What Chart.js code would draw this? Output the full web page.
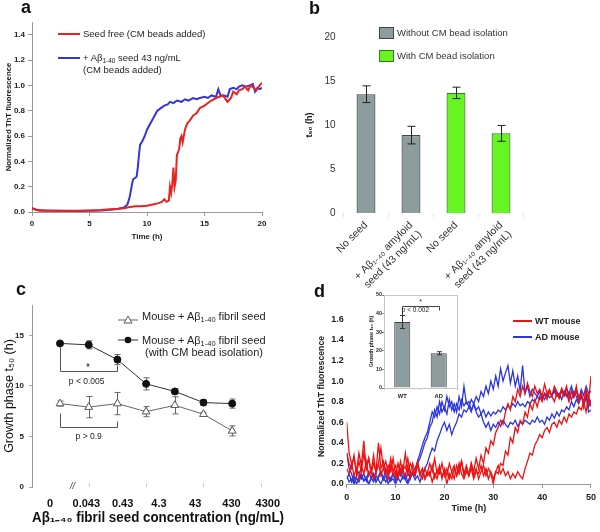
<!DOCTYPE html>
<html>
<head>
<meta charset="utf-8">
<script src="https://cdn.jsdelivr.net/npm/chart.js@4.4.1/dist/chart.umd.min.js"></script>
<style>
  html, body { margin: 0; padding: 0; background: #fff; }
  #fig { position: relative; width: 600px; height: 532px; overflow: hidden;
         font-family: 'Liberation Sans', Arial, sans-serif; color: #222; }
  #fig canvas { position: absolute; left: 0; top: 0; }
  .t { position: absolute; white-space: nowrap; line-height: 1; transform: translateY(-50%); }
  .lt { position: absolute; font-weight: bold; font-size: 18px; line-height: 1; color: #111; }
  .sub { font-size: 0.68em; position: relative; top: 0.32em; }
  .ln { position: absolute; height: 2px; }
  .sq { position: absolute; width: 15px; height: 12px; box-sizing: border-box; border: 1px solid #333; }
  svg { position: absolute; }
</style>
</head>
<body>
<div id="fig">
  <canvas id="chartA" width="600" height="532"></canvas>
  <canvas id="chartB" width="600" height="532"></canvas>
  <canvas id="chartC" width="600" height="532"></canvas>
  <canvas id="chartD" width="600" height="532"></canvas>
  <canvas id="chartInset" width="600" height="532"></canvas>

  <!-- panel letters -->
  <div class="lt" style="left:21px;top:-2px">a</div>
  <div class="lt" style="left:309px;top:-1px">b</div>
  <div class="lt" style="left:16px;top:280px">c</div>
  <div class="lt" style="left:314px;top:282px">d</div>

  <!-- legend a -->
  <div class="ln" style="left:58px;top:33px;width:22px;background:#e8241f"></div>
  <div class="t" style="left:83px;top:34px;font-size:9.5px">Seed free (CM beads added)</div>
  <div class="ln" style="left:58px;top:57px;width:22px;background:#3535d8"></div>
  <div class="t" style="left:83px;top:58px;font-size:9.5px">+ Aβ<span class="sub">1-40</span> seed 43 ng/mL</div>
  <div class="t" style="left:83px;top:70px;font-size:9.5px">(CM beads added)</div>

  <!-- legend b -->
  <div class="sq" style="left:379px;top:27px;background:#8d9d9e;border-color:#3d4848"></div>
  <div class="t" style="left:397px;top:33px;font-size:9.5px;color:#333">Without CM bead isolation</div>
  <div class="sq" style="left:379px;top:50px;background:#66f522;border-color:#2f7f1a"></div>
  <div class="t" style="left:397px;top:56px;font-size:9.5px;color:#333">With CM bead isolation</div>

  <!-- legend c -->
  <svg style="left:116px;top:313px" width="24" height="14">
    <line x1="2" y1="7" x2="22" y2="7" stroke="#666" stroke-width="1"/>
    <polygon points="12,3 16,10 8,10" fill="#fff" stroke="#555"/>
  </svg>
  <div class="t" style="left:142px;top:316px;font-size:11px">Mouse + Aβ<span class="sub">1-40</span> fibril seed</div>
  <svg style="left:116px;top:333px" width="24" height="14">
    <line x1="2" y1="7" x2="22" y2="7" stroke="#333" stroke-width="1"/>
    <circle cx="12" cy="7" r="3.3" fill="#111"/>
  </svg>
  <div class="t" style="left:142px;top:340px;font-size:11px">Mouse + Aβ<span class="sub">1-40</span> fibril seed</div>
  <div class="t" style="left:145px;top:352px;font-size:11px">(with CM bead isolation)</div>
  <div class="t" style="left:70px;top:486px;font-size:9px;font-style:italic;color:#333">//</div>

  <!-- legend d -->
  <div class="ln" style="left:513px;top:320px;width:19px;background:#f01010"></div>
  <div class="t" style="left:535px;top:321px;font-size:9px;font-weight:bold">WT mouse</div>
  <div class="ln" style="left:513px;top:336px;width:19px;background:#2b35e0"></div>
  <div class="t" style="left:535px;top:337px;font-size:9px;font-weight:bold">AD mouse</div>
</div>

<script>
// ---------- panel a: ThT kinetics ----------
const A_SEED_FREE_T = [0, 0.3, 0.6, 1, 2, 3, 4, 5, 6, 6.5, 7, 7.5, 8, 8.5, 9, 9.5, 10, 10.5, 11, 11.3, 11.5, 11.7, 11.9, 12.0, 12.1, 12.2, 12.3, 12.4, 12.5, 12.6, 12.7, 12.8, 12.9, 13.0, 13.1, 13.3, 13.5, 13.7, 14.0, 14.3, 14.6, 15.0, 15.3, 15.6, 16.0, 16.3, 16.6, 17.0, 17.3, 17.5, 17.8, 18.0, 18.3, 18.5, 18.8, 19.0, 19.3, 19.5, 19.8, 20];
const A_SEED_FREE = [0.03, 0.02, 0.01, 0.012, 0.01, 0.008, 0.01, 0.012, 0.015, 0.02, 0.022, 0.025, 0.03, 0.04, 0.045, 0.045, 0.05, 0.06, 0.07, 0.08, 0.1, 0.08, 0.09, 0.2, 0.15, 0.22, 0.35, 0.2, 0.25, 0.45, 0.47, 0.5, 0.58, 0.6, 0.55, 0.65, 0.7, 0.72, 0.76, 0.78, 0.82, 0.84, 0.86, 0.88, 0.9, 0.91, 0.92, 0.87, 0.9, 0.95, 0.93, 0.96, 0.97, 0.99, 0.96, 1.0, 0.98, 0.96, 1.0, 1.02];
const A_SEEDED_T = [0, 0.3, 0.6, 1, 2, 3, 4, 5, 6, 7, 7.5, 8, 8.3, 8.5, 8.7, 8.8, 9.0, 9.1, 9.2, 9.3, 9.4, 9.6, 9.8, 10.0, 10.3, 10.6, 10.9, 11.2, 11.5, 11.8, 12.0, 12.3, 12.6, 13.0, 13.3, 13.6, 14.0, 14.3, 14.6, 15.0, 15.3, 15.6, 16.0, 16.2, 16.4, 16.7, 17.0, 17.2, 17.5, 17.8, 18.0, 18.3, 18.6, 19.0, 19.2, 19.4, 19.6, 19.8, 20];
const A_SEEDED = [0.03, 0.02, 0.015, 0.012, 0.01, 0.01, 0.008, 0.01, 0.012, 0.02, 0.025, 0.035, 0.06, 0.12, 0.22, 0.26, 0.27, 0.28, 0.35, 0.45, 0.53, 0.56, 0.6, 0.65, 0.7, 0.75, 0.8, 0.82, 0.84, 0.85, 0.87, 0.86, 0.88, 0.87, 0.89, 0.88, 0.9, 0.89, 0.9, 0.91, 0.9, 0.92, 0.91, 0.97, 0.92, 0.92, 0.91, 0.97, 0.98, 0.97, 0.99, 1.0, 0.99, 1.0, 1.01, 0.95, 0.98, 0.97, 0.98];

// ---------- panel b: t50 bars ----------
const B_LABELS = ['No seed', ['+ Aβ₁₋₄₀ amyloid', 'seed (43 ng/mL)'], 'No seed', ['+ Aβ₁₋₄₀ amyloid', 'seed (43 ng/mL)']];
const B_WITHOUT_CM = [13.5, 8.85];
const B_WITHOUT_CM_ERR = [0.95, 1.0];
const B_WITH_CM = [13.65, 9.05];
const B_WITH_CM_ERR = [0.65, 0.9];

// ---------- panel c: t50 vs seed concentration ----------
const C_TICK_LABELS = ['0', '0.043', '0.43', '4.3', '43', '430', '4300'];
const C_MOUSE = [8.25, 7.9, 8.25, 7.45, 8.08, 7.2, 5.55];
const C_MOUSE_ERR = [0.25, 1.05, 1.1, 0.5, 0.85, 0.18, 0.5];
const C_MOUSE_CM = [14.2, 14.06, 12.6, 10.2, 9.45, 8.35, 8.25];
const C_MOUSE_CM_ERR = [0.15, 0.4, 0.5, 0.6, 0.25, 0.3, 0.45];

// ---------- panel d: mouse brain seeding, sampled every 0.5 h ----------
const D_STEP = 0.5;
const D_WT_1 = [
  0.60, 0.30, 0.20, 0.25, 0.12, 0.30, 0.18, 0.42, 0.15, 0.25,
  0.10, 0.20, 0.12, 0.40, 0.15, 0.22, 0.10, 0.18, 0.12, 0.25,
  0.08, 0.20, 0.10, 0.18, 0.15, 0.25, 0.10, 0.20, 0.12, 0.22,
  0.10, 0.15, 0.05, 0.12, 0.08, 0.18, 0.06, 0.14, 0.10, 0.20,
  0.08, 0.15, 0.05, 0.12, 0.18, 0.08, 0.15, 0.22, 0.10, 0.18,
  0.08, 0.20, 0.12, 0.25, 0.15, 0.28, 0.20, 0.35, 0.30, 0.42,
  0.38, 0.50, 0.55, 0.62, 0.58, 0.70, 0.78, 0.72, 0.85, 0.80,
  0.92, 0.85, 0.95, 0.88, 0.98, 0.90, 0.85, 0.95, 0.88, 0.92,
  0.85, 0.97, 0.88, 0.92, 0.85, 0.95, 0.90, 0.85, 0.93, 0.88,
  0.95, 0.82, 0.90, 0.85, 0.95, 0.80, 0.88, 0.75, 0.92, 0.80,
  1.05];
const D_WT_2 = [
  0.30, 0.20, 0.15, 0.28, 0.10, 0.22, 0.12, 0.30, 0.15, 0.25,
  0.12, 0.28, 0.10, 0.20, 0.35, 0.15, 0.22, 0.10, 0.25, 0.12,
  0.18, 0.08, 0.22, 0.12, 0.30, 0.10, 0.20, 0.15, 0.08, 0.18,
  0.10, 0.05, 0.15, 0.08, 0.12, 0.02, 0.10, 0.05, 0.15, 0.08,
  0.12, 0.00, 0.10, 0.05, 0.15, 0.08, 0.20, 0.10, 0.05, 0.12,
  0.08, 0.15, 0.05, 0.12, 0.10, 0.18, 0.08, 0.15, 0.05, 0.12,
  0.05, 0.12, 0.10, 0.20, 0.18, 0.32, 0.28, 0.45, 0.40, 0.55,
  0.50, 0.62, 0.58, 0.70, 0.65, 0.78, 0.72, 0.82, 0.75, 0.85,
  0.80, 0.88, 0.82, 0.90, 0.85, 0.80, 0.88, 0.83, 0.92, 0.85,
  0.88, 0.80, 0.90, 0.84, 0.92, 0.85, 0.88, 0.80, 0.90, 0.82,
  0.78];
const D_WT_3 = [
  0.15, 0.10, 0.20, 0.08, 0.15, 0.05, 0.18, 0.10, 0.22, 0.08,
  0.15, 0.05, 0.12, 0.20, 0.08, 0.15, 0.10, 0.05, 0.18, 0.08,
  0.12, 0.05, 0.15, 0.10, 0.08, 0.18, 0.05, 0.12, 0.10, 0.20,
  0.08, 0.15, 0.05, 0.10, 0.20, 0.12, 0.25, 0.10, 0.18, 0.05,
  0.15, 0.08, 0.20, 0.12, 0.05, 0.18, 0.10, 0.22, 0.08, 0.15,
  0.10, 0.20, 0.08, 0.15, 0.05, 0.12, 0.18, 0.08, 0.15, 0.10,
  0.00, 0.12, 0.18, 0.10, 0.15, 0.08, 0.12, 0.05, 0.10, 0.06,
  0.12, 0.08, 0.05, 0.15, 0.22, 0.30, 0.28, 0.38, 0.42, 0.48,
  0.45, 0.52, 0.55, 0.50, 0.58, 0.60, 0.55, 0.62, 0.58, 0.65,
  0.60, 0.68, 0.65, 0.70, 0.68, 0.75, 0.72, 0.80, 0.70, 0.85,
  0.75];
const D_AD_1 = [
  0.30, 0.15, 0.10, 0.02, 0.08, 0.12, 0.05, 0.10, 0.03, 0.12,
  0.06, 0.10, 0.02, 0.08, 0.12, 0.05, 0.15, 0.08, 0.03, 0.10,
  0.05, 0.12, 0.08, 0.15, 0.05, 0.10, 0.06, 0.12, 0.08, 0.20,
  0.25, 0.32, 0.40, 0.45, 0.55, 0.60, 0.72, 0.65, 0.80, 0.70,
  0.75, 0.68, 0.82, 0.72, 0.78, 0.70, 0.85, 0.75, 0.95, 0.78,
  0.80, 0.72, 0.78, 0.70, 0.65, 0.68, 0.60, 0.55, 0.60, 0.52,
  0.58, 0.55, 0.60, 0.56, 0.62, 0.58, 0.55, 0.60, 0.58, 0.62,
  0.56, 0.60, 0.58, 0.62, 0.60, 0.58, 0.62, 0.60, 0.65, 0.60,
  0.62, 0.58, 0.65, 0.62, 0.68, 0.64, 0.70, 0.66, 0.72, 0.70,
  0.75, 0.72, 0.80, 0.75, 0.82, 0.78, 0.85, 0.80, 0.88, 0.75,
  0.82];
const D_AD_2 = [
  0.08, 0.02, 0.05, 0.00, 0.06, 0.02, 0.08, 0.03, 0.05, 0.00,
  0.06, 0.02, 0.08, 0.04, 0.00, 0.06, 0.02, 0.08, 0.03, 0.05,
  0.00, 0.06, 0.02, 0.08, 0.04, 0.00, 0.06, 0.10, 0.04, 0.08,
  0.02, 0.10, 0.15, 0.20, 0.28, 0.35, 0.32, 0.42, 0.48, 0.55,
  0.60, 0.52, 0.58, 0.48, 0.55, 0.60, 0.68, 0.65, 0.72, 0.70,
  0.75, 0.70, 0.78, 0.72, 0.75, 0.68, 0.72, 0.65, 0.70, 0.66,
  0.70, 0.68, 0.72, 0.70, 0.75, 0.72, 0.76, 0.74, 0.78, 0.75,
  0.80, 0.76, 0.78, 0.75, 0.80, 0.78, 0.82, 0.80, 0.85, 0.82,
  0.86, 0.82, 0.88, 0.84, 0.86, 0.90, 0.85, 0.88, 0.82, 0.90,
  0.85, 0.88, 0.82, 0.90, 0.85, 0.80, 0.88, 0.75, 0.85, 0.70,
  0.72];
const D_AD_3 = [
  0.05, 0.10, 0.02, 0.08, 0.00, 0.05, 0.10, 0.03, 0.07, 0.00,
  0.05, 0.10, 0.02, 0.06, 0.12, 0.04, 0.08, 0.00, 0.06, 0.10,
  0.03, 0.08, 0.12, 0.05, 0.10, 0.02, 0.08, 0.12, 0.15, 0.22,
  0.30, 0.38, 0.45, 0.50, 0.60, 0.70, 0.65, 0.75, 0.68, 0.80,
  0.72, 0.85, 0.75, 0.80, 0.70, 0.78, 0.72, 0.82, 0.76, 0.80,
  0.75, 0.82, 0.78, 0.85, 0.80, 0.90, 0.85, 0.95, 0.88, 1.00,
  0.92, 1.05, 0.95, 1.12, 1.00, 1.08, 1.15, 0.98, 1.10, 0.95,
  1.05, 0.90, 1.15, 0.88, 0.95, 0.85, 0.92, 0.88, 0.85, 0.90,
  0.82, 0.88, 0.85, 0.90, 0.86, 0.92, 0.88, 0.85, 0.90, 0.86,
  0.92, 0.88, 0.95, 0.85, 0.90, 0.82, 0.92, 0.86, 0.95, 0.88,
  0.90];

// inset of d
const D_INSET_LABELS = ['WT', 'AD'];
const D_INSET_T50 = [35.5, 18.7];
const D_INSET_ERR = [3.5, 0.8];

// ---------- styles ----------
const FONT = "'Liberation Sans', Arial, sans-serif";
const GRAY = '#8d9d9e';
const GREEN = '#66f522';
Chart.defaults.font.family = FONT;
Chart.defaults.color = '#222';
Chart.defaults.animation = false;
Chart.defaults.responsive = false;
Chart.defaults.plugins.legend.display = false;
Chart.defaults.plugins.tooltip.enabled = false;

const fixW = w => s => { s.width = w; };
const fixH = h => s => { s.height = h; };
const keepTicks = test => s => { s.ticks = s.ticks.filter(t => test(t.value)); };
const bold = size => ({ size: size, weight: 'bold' });
const pairs = (xs, ys) => ys.map((y, i) => ({ x: xs[i], y: y }));
const series = ys => ys.map((y, i) => ({ x: i * D_STEP, y: y }));
const indexed = ys => ys.map((y, i) => ({ x: i, y: y }));

// error bars drawn from each dataset's `errors` array through its y scale
function drawErrorBars(chart, opts) {
  const ctx = chart.ctx;
  ctx.save();
  ctx.strokeStyle = opts.color;
  ctx.lineWidth = 1;
  chart.data.datasets.forEach((ds, di) => {
    if (!ds.errors) return;
    const meta = chart.getDatasetMeta(di);
    const ys = chart.scales[meta.yAxisID];
    meta.data.forEach((el, i) => {
      const d = ds.data[i];
      const v = d !== null && typeof d === 'object' ? d.y : d;
      const e = ds.errors[i];
      if (v == null || e == null) return;
      const x = Math.round(el.x) + 0.5;
      const y1 = ys.getPixelForValue(v - e), y2 = ys.getPixelForValue(v + e);
      const c = opts.cap / 2;
      ctx.beginPath();
      ctx.moveTo(x, y1); ctx.lineTo(x, y2);
      ctx.moveTo(x - c, y1); ctx.lineTo(x + c, y1);
      ctx.moveTo(x - c, y2); ctx.lineTo(x + c, y2);
      ctx.stroke();
    });
  });
  ctx.restore();
}
const errorBars = {
  id: 'errorBars',
  beforeDatasetsDraw(chart, args, opts) { if (opts.layer === 'before') drawErrorBars(chart, opts); },
  afterDatasetsDraw(chart, args, opts) { if (opts.layer !== 'before') drawErrorBars(chart, opts); }
};

// brackets, p-value notes, extra tick marks and plot frame
const notes = {
  id: 'notes',
  afterDraw(chart, args, opts) {
    const ctx = chart.ctx;
    const xs = chart.scales[opts.xAxis || 'x'];
    const ys = chart.scales.y;
    const a = chart.chartArea;
    ctx.save();
    ctx.lineWidth = 1;
    if (opts.frame) {
      ctx.strokeStyle = opts.frame;
      ctx.strokeRect(Math.round(a.left) + 0.5, Math.round(a.top) + 0.5, Math.round(a.right - a.left), Math.round(a.bottom - a.top));
    }
    if (opts.marks) {
      ctx.strokeStyle = opts.markColor;
      opts.marks.forEach(v => {
        const px = Math.round(xs.getPixelForValue(v)) + 0.5;
        ctx.beginPath(); ctx.moveTo(px, a.bottom - 4); ctx.lineTo(px, a.bottom); ctx.stroke();
      });
    }
    ctx.strokeStyle = opts.color || '#444';
    (opts.lines || []).forEach(pts => {
      ctx.beginPath();
      pts.forEach((p, i) => {
        const px = Math.round(xs.getPixelForValue(p[0])) + 0.5;
        const py = Math.round(ys.getPixelForValue(p[1])) + 0.5;
        if (i) ctx.lineTo(px, py); else ctx.moveTo(px, py);
      });
      ctx.stroke();
    });
    ctx.fillStyle = opts.textColor || '#222';
    ctx.textAlign = 'center';
    ctx.textBaseline = 'middle';
    (opts.texts || []).forEach(t => {
      ctx.font = t.size + 'px ' + FONT;
      ctx.fillText(t.text, xs.getPixelForValue(t.x), ys.getPixelForValue(t.y));
    });
    ctx.restore();
  }
};

// ---------- chart a ----------
new Chart(document.getElementById('chartA'), {
  type: 'line',
  data: {
    datasets: [
      { data: pairs(A_SEED_FREE_T, A_SEED_FREE), borderColor: '#e8241f', borderWidth: 2, pointRadius: 0 },
      { data: pairs(A_SEEDED_T, A_SEEDED), borderColor: '#3535d8', borderWidth: 2, pointRadius: 0 }
    ]
  },
  options: {
    layout: { padding: { left: 0, right: 338, top: 22, bottom: 290 } },
    scales: {
      x: {
        type: 'linear', min: 0, max: 20,
        ticks: { stepSize: 5, font: bold(8), padding: 3 },
        grid: { drawOnChartArea: false, tickLength: 4, color: '#999' },
        border: { color: '#999' },
        title: { display: true, text: 'Time (h)', font: bold(8), padding: 0 },
        afterFit: fixH(30)
      },
      y: {
        min: 0, max: 1.5,
        ticks: { stepSize: 0.2, font: bold(8), padding: 3, callback: v => v.toFixed(1) },
        afterBuildTicks: keepTicks(v => v < 1.45),
        grid: { drawOnChartArea: false, tickLength: 4, color: '#999' },
        border: { color: '#999' },
        title: { display: true, text: 'Normalized ThT fluorescence', font: bold(7.8), padding: { top: 4, bottom: 0 } },
        afterFit: fixW(32)
      }
    }
  }
});

// ---------- chart b ----------
new Chart(document.getElementById('chartB'), {
  type: 'bar',
  data: {
    labels: B_LABELS,
    datasets: [
      { label: 'Without CM bead isolation', data: [...B_WITHOUT_CM, null, null], errors: [...B_WITHOUT_CM_ERR, null, null],
        backgroundColor: GRAY, borderColor: '#3d4848', borderWidth: 1.2 },
      { label: 'With CM bead isolation', data: [null, null, ...B_WITH_CM], errors: [null, null, ...B_WITH_CM_ERR],
        backgroundColor: GREEN, borderColor: '#2f7f1a', borderWidth: 1.2 }
    ]
  },
  options: {
    grouped: false,
    barPercentage: 0.42,
    categoryPercentage: 1,
    layout: { padding: { left: 300, right: 76.5, top: 37, bottom: 239 } },
    plugins: { errorBars: { layer: 'after', color: '#222', cap: 8 } },
    scales: {
      x: {
        ticks: { font: { size: 10.5 }, color: '#333', maxRotation: 45, minRotation: 45, autoSkip: false, padding: 2 },
        grid: { drawOnChartArea: false, tickLength: 4, color: '#e2e2e2', offset: true },
        border: { display: false },
        afterFit: fixH(80)
      },
      y: {
        min: 0, max: 20,
        ticks: { stepSize: 5, font: { size: 10 }, color: '#333', padding: 8 },
        grid: { display: false, drawTicks: false },
        border: { display: false },
        title: { display: true, text: 't₅₀ (h)', font: bold(9), color: '#111', padding: { top: 4.5, bottom: 0 } },
        afterFit: fixW(43.5)
      }
    }
  },
  plugins: [errorBars]
});

// ---------- chart c ----------
new Chart(document.getElementById('chartC'), {
  type: 'line',
  data: {
    datasets: [
      { label: 'Mouse + Aβ1-40 fibril seed (with CM bead isolation)', data: indexed(C_MOUSE_CM), errors: C_MOUSE_CM_ERR,
        borderColor: '#333', borderWidth: 1, pointStyle: 'circle', pointRadius: 3.5,
        pointBackgroundColor: '#111', pointBorderColor: '#111' },
      { label: 'Mouse + Aβ1-40 fibril seed', data: indexed(C_MOUSE), errors: C_MOUSE_ERR,
        borderColor: '#666', borderWidth: 1, pointStyle: 'triangle', pointRadius: 4.5,
        pointBackgroundColor: '#fff', pointBorderColor: '#555', pointBorderWidth: 1 }
    ]
  },
  options: {
    layout: { padding: { left: 0, right: 316, top: 305, bottom: 5 } },
    plugins: {
      errorBars: { layer: 'before', color: '#666', cap: 6 },
      notes: {
        color: '#555',
        markColor: '#ccc',
        marks: [1, 3, 5, 7],
        lines: [
          [[0, 13.9], [0, 11.46], [2, 11.46], [2, 12.1]],
          [[0, 7.3], [0, 5.94], [2, 5.94], [2, 6.53]]
        ],
        texts: [
          { text: '*', x: 0.97, y: 11.75, size: 10 },
          { text: 'p < 0.005', x: 0.93, y: 10.45, size: 8.5 },
          { text: 'p > 0.9', x: 1.0, y: 5.0, size: 8.5 }
        ]
      }
    },
    scales: {
      x: { type: 'linear', display: false, min: -0.9756, max: 7.805 },
      x2: {
        type: 'linear', position: 'bottom', min: -0.496, max: 6.446,
        afterBuildTicks: s => { s.ticks = C_TICK_LABELS.map((_, i) => ({ value: i })); },
        ticks: { font: bold(11), color: '#111', padding: 10, callback: v => C_TICK_LABELS[v] },
        grid: { display: false, drawTicks: false },
        border: { display: false },
        title: { display: true, text: 'Aβ₁₋₄₀ fibril seed concentration (ng/mL)', font: bold(14), color: '#111', padding: 0 },
        afterFit: fixH(40)
      },
      y: {
        min: 0, max: 18,
        afterBuildTicks: keepTicks(v => v % 5 === 0),
        ticks: { stepSize: 5, font: bold(8), padding: 5 },
        grid: { drawOnChartArea: false, tickLength: 3, color: '#aaa' },
        border: { color: '#999' },
        title: { display: true, text: 'Growth phase t₅₀ (h)', font: { size: 12.5 }, color: '#111', padding: { top: 2, bottom: 0 } },
        afterFit: fixW(32)
      }
    }
  },
  plugins: [errorBars, notes]
});

// ---------- chart d ----------
new Chart(document.getElementById('chartD'), {
  type: 'line',
  data: {
    datasets: [
      { label: 'WT mouse', data: series(D_WT_1), borderColor: '#f01010' },
      { label: 'WT mouse', data: series(D_WT_2), borderColor: '#f01010' },
      { label: 'WT mouse', data: series(D_WT_3), borderColor: '#f01010' },
      { label: 'AD mouse', data: series(D_AD_1), borderColor: '#2b35e0' },
      { label: 'AD mouse', data: series(D_AD_2), borderColor: '#2b35e0' },
      { label: 'AD mouse', data: series(D_AD_3), borderColor: '#2b35e0' }
    ]
  },
  options: {
    elements: { line: { borderWidth: 1.3, tension: 0 }, point: { radius: 0 } },
    layout: { padding: { left: 312, right: 7.3, top: 309, bottom: 18 } },
    scales: {
      x: {
        type: 'linear', min: 0, max: 50,
        ticks: { stepSize: 10, font: bold(9), padding: 4 },
        grid: { drawOnChartArea: false, tickLength: 4, color: '#999' },
        border: { color: '#999' },
        title: { display: true, text: 'Time (h)', font: bold(9), padding: 0 },
        afterFit: fixH(30)
      },
      y: {
        min: 0, max: 1.7,
        afterBuildTicks: keepTicks(v => v < 1.65),
        ticks: { stepSize: 0.2, font: bold(9), padding: 3, callback: v => v.toFixed(1) },
        grid: { display: false, drawTicks: false },
        border: { display: false },
        title: { display: true, text: 'Normalized ThT fluorescence', font: bold(8.7), padding: { top: 4, bottom: 0 } },
        afterFit: fixW(34.7)
      }
    }
  }
});

// ---------- inset of d ----------
new Chart(document.getElementById('chartInset'), {
  type: 'bar',
  data: {
    labels: D_INSET_LABELS,
    datasets: [{ data: D_INSET_T50, errors: D_INSET_ERR, backgroundColor: GRAY, borderColor: '#444', borderWidth: 1 }]
  },
  options: {
    barPercentage: 0.44,
    categoryPercentage: 1,
    layout: { padding: { left: 368.7, right: 143, top: 295, bottom: 132 } },
    plugins: {
      errorBars: { layer: 'after', color: '#333', cap: 5 },
      notes: {
        frame: '#c4c4c4',
        color: '#444',
        lines: [[[0, 39.5], [0, 44], [1, 44], [1, 42]]],
        texts: [
          { text: '*', x: 0.5, y: 46, size: 7 },
          { text: 'p < 0.002', x: 0.36, y: 41.7, size: 6.5 }
        ]
      }
    },
    scales: {
      x: {
        ticks: { font: bold(5.8), padding: 3 },
        grid: { drawOnChartArea: false, tickLength: 2, color: '#bbb', offset: true },
        border: { color: '#888' },
        afterFit: fixH(12)
      },
      y: {
        min: 0, max: 50,
        ticks: { stepSize: 10, font: bold(5.3), padding: 0 },
        grid: { drawOnChartArea: false, tickLength: 2, color: '#888' },
        border: { color: '#888' },
        title: { display: true, text: 'Growth phase t₅₀ (h)', font: bold(5.3), padding: 0 },
        afterFit: fixW(15.3)
      }
    }
  },
  plugins: [errorBars, notes]
});
</script>
</body>
</html>
